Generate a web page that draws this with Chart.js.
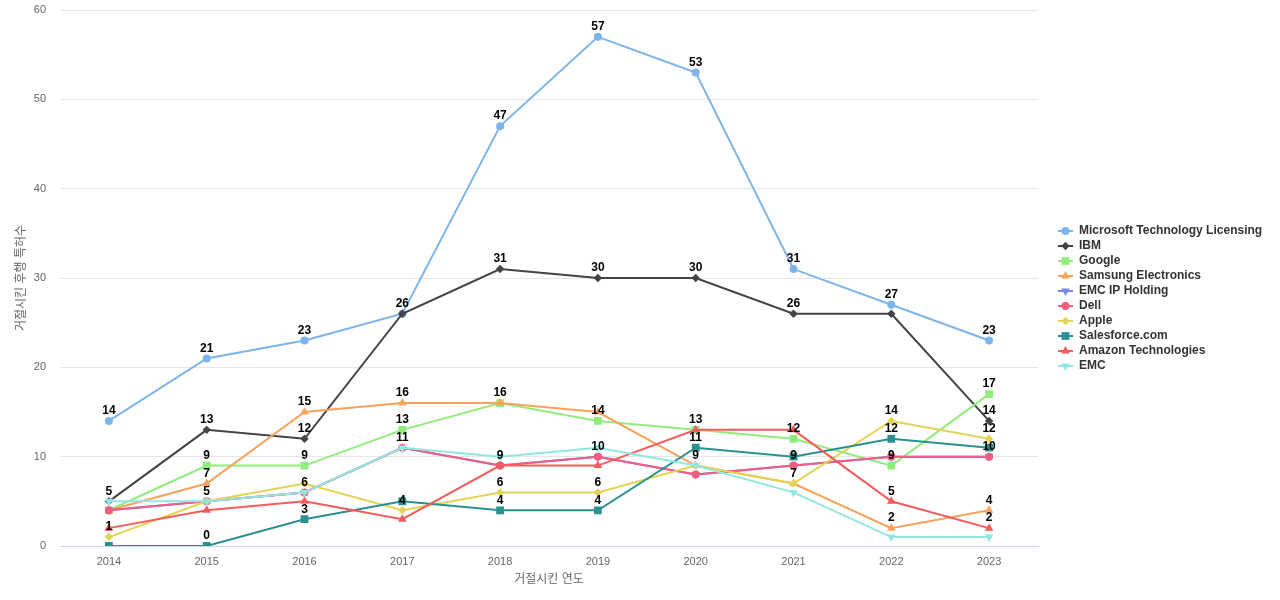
<!DOCTYPE html>
<html>
<head>
<meta charset="utf-8">
<script src="https://cdn.jsdelivr.net/npm/chart.js@4/dist/chart.umd.min.js"></script>
<style>
  html, body { margin: 0; padding: 0; background: #fff; }
  #wrap { width: 1280px; height: 600px; }
</style>
</head>
<body>
<div id="wrap"><canvas id="myChart" width="1280" height="600"></canvas></div>
<script>
const years = ['2014', '2015', '2016', '2017', '2018', '2019', '2020', '2021', '2022', '2023'];
const yTicks = [0, 10, 20, 30, 40, 50, 60];

const microsoft = [14, 21, 23, 26, 47, 57, 53, 31, 27, 23];
const ibm = [5, 13, 12, 26, 31, 30, 30, 26, 26, 14];
const google = [4, 9, 9, 13, 16, 14, 13, 12, 9, 17];
const samsung = [4, 7, 15, 16, 16, 15, 9, 7, 2, 4];
const emcIp = [4, 5, 6, 11, 9, 10, 8, 9, 10, 10];
const dell = [4, 5, 6, 11, 9, 10, 8, 9, 10, 10];
const apple = [1, 5, 7, 4, 6, 6, 9, 7, 14, 12];
const salesforce = [0, 0, 3, 5, 4, 4, 11, 10, 12, 11];
const amazon = [2, 4, 5, 3, 9, 9, 13, 13, 5, 2];
const emc = [5, 5, 6, 11, 10, 11, 9, 6, 1, 1];

const seriesNames = ['Microsoft Technology Licensing', 'IBM', 'Google', 'Samsung Electronics', 'EMC IP Holding',
  'Dell', 'Apple', 'Salesforce.com', 'Amazon Technologies', 'EMC'];
const seriesData = [microsoft, ibm, google, samsung, emcIp, dell, apple, salesforce, amazon, emc];
const seriesColors = ['#7cb5ec', '#434348', '#90ed7d', '#f7a35c', '#8085e9', '#f15c80', '#e4d354', '#2b908f', '#f45b5b', '#91e8e1'];
const seriesMarkers = ['circle', 'rectRot', 'rect', 'triangle', 'triangle', 'circle', 'rectRot', 'rect', 'triangle', 'triangle'];
const markerRotation = [0, 0, 0, 0, 180, 0, 0, 0, 0, 180];
const markerSize = { circle: 4, rectRot: 4.2, rect: 5.5, triangle: 5 };

const FONT = '"Liberation Sans", "Noto Sans CJK KR", sans-serif';
Chart.defaults.font.family = FONT;

// labels above points, earlier series win when two labels collide
const pointLabels = {
  id: 'pointLabels',
  afterDatasetsDraw(chart) {
    const ctx = chart.ctx;
    const placed = [];
    ctx.save();
    ctx.font = 'bold 12px ' + FONT;
    ctx.fillStyle = '#000';
    ctx.textAlign = 'center';
    ctx.textBaseline = 'middle';
    chart.data.datasets.forEach((ds, i) => {
      const meta = chart.getDatasetMeta(i);
      meta.data.forEach((pt, j) => {
        const txt = String(ds.data[j]);
        const w = ctx.measureText(txt).width + 2;
        const box = { x1: pt.x - w / 2, x2: pt.x + w / 2, y1: pt.y - 16, y2: pt.y - 4 };
        const hit = placed.some(b => box.x1 < b.x2 && box.x2 > b.x1 && box.y1 < b.y2 && box.y2 > b.y1);
        if (hit) return;
        placed.push(box);
        ctx.fillText(txt, pt.x, pt.y - 10);
      });
    });
    ctx.restore();
  }
};

// legend with a short line through the marker
const sideLegend = {
  id: 'sideLegend',
  afterDraw(chart) {
    const ctx = chart.ctx;
    const x0 = 1058, top = 231, step = 15;
    ctx.save();
    chart.data.datasets.forEach((ds, i) => {
      const y = top + i * step;
      ctx.strokeStyle = ds.borderColor;
      ctx.lineWidth = 2;
      ctx.beginPath();
      ctx.moveTo(x0, y);
      ctx.lineTo(x0 + 15, y);
      ctx.stroke();
      ctx.fillStyle = ds.backgroundColor;
      Chart.helpers.drawPoint(ctx, { pointStyle: ds.pointStyle, rotation: ds.pointRotation, radius: ds.pointRadius, borderWidth: 0 }, x0 + 7.5, y);
      ctx.font = 'bold 12px ' + FONT;
      ctx.fillStyle = '#333333';
      ctx.textAlign = 'left';
      ctx.textBaseline = 'middle';
      ctx.fillText(ds.label, x0 + 21, y);
    });
    ctx.restore();
  }
};

const datasets = seriesNames.map((name, i) => ({
  label: name,
  data: seriesData[i],
  borderColor: seriesColors[i],
  backgroundColor: seriesColors[i],
  borderWidth: 2,
  pointStyle: seriesMarkers[i],
  pointRotation: markerRotation[i],
  pointRadius: markerSize[seriesMarkers[i]],
  pointBorderWidth: 0,
  order: -i,
  tension: 0
}));

const ctx = document.getElementById('myChart').getContext('2d');
new Chart(ctx, {
  type: 'line',
  data: { labels: years, datasets: datasets },
  plugins: [pointLabels, sideLegend],
  options: {
    responsive: false,
    animation: false,
    layout: { padding: { top: 10, right: 242, left: 0, bottom: 13 } },
    plugins: {
      legend: { display: false },
      tooltip: { enabled: false }
    },
    scales: {
      x: {
        offset: true,
        grid: { display: false, drawTicks: false },
        border: { display: true, color: '#ccd6eb', width: 1 },
        ticks: { color: '#666666', font: { size: 11 }, padding: 9 },
        title: { display: true, text: '거절시킨 연도', color: '#666666', font: { size: 12 }, padding: { top: 0, bottom: 0 } },
        afterFit(scale) { scale.height = 41; }
      },
      y: {
        min: 0,
        max: 60,
        afterBuildTicks(scale) { scale.ticks = yTicks.map(v => ({ value: v })); },
        grid: { color: '#e6e6e6', drawTicks: false },
        border: { display: false },
        ticks: { color: '#666666', font: { size: 11 }, padding: 14 },
        title: { display: true, text: '거절시킨 후행 특허수', color: '#666666', font: { size: 12 }, padding: { top: 14, bottom: 4 } },
        afterFit(scale) {
          scale.width = 60;
          scale.paddingTop = 0;
          scale.paddingBottom = 0;
        }
      }
    }
  }
});
</script>
</body>
</html>
